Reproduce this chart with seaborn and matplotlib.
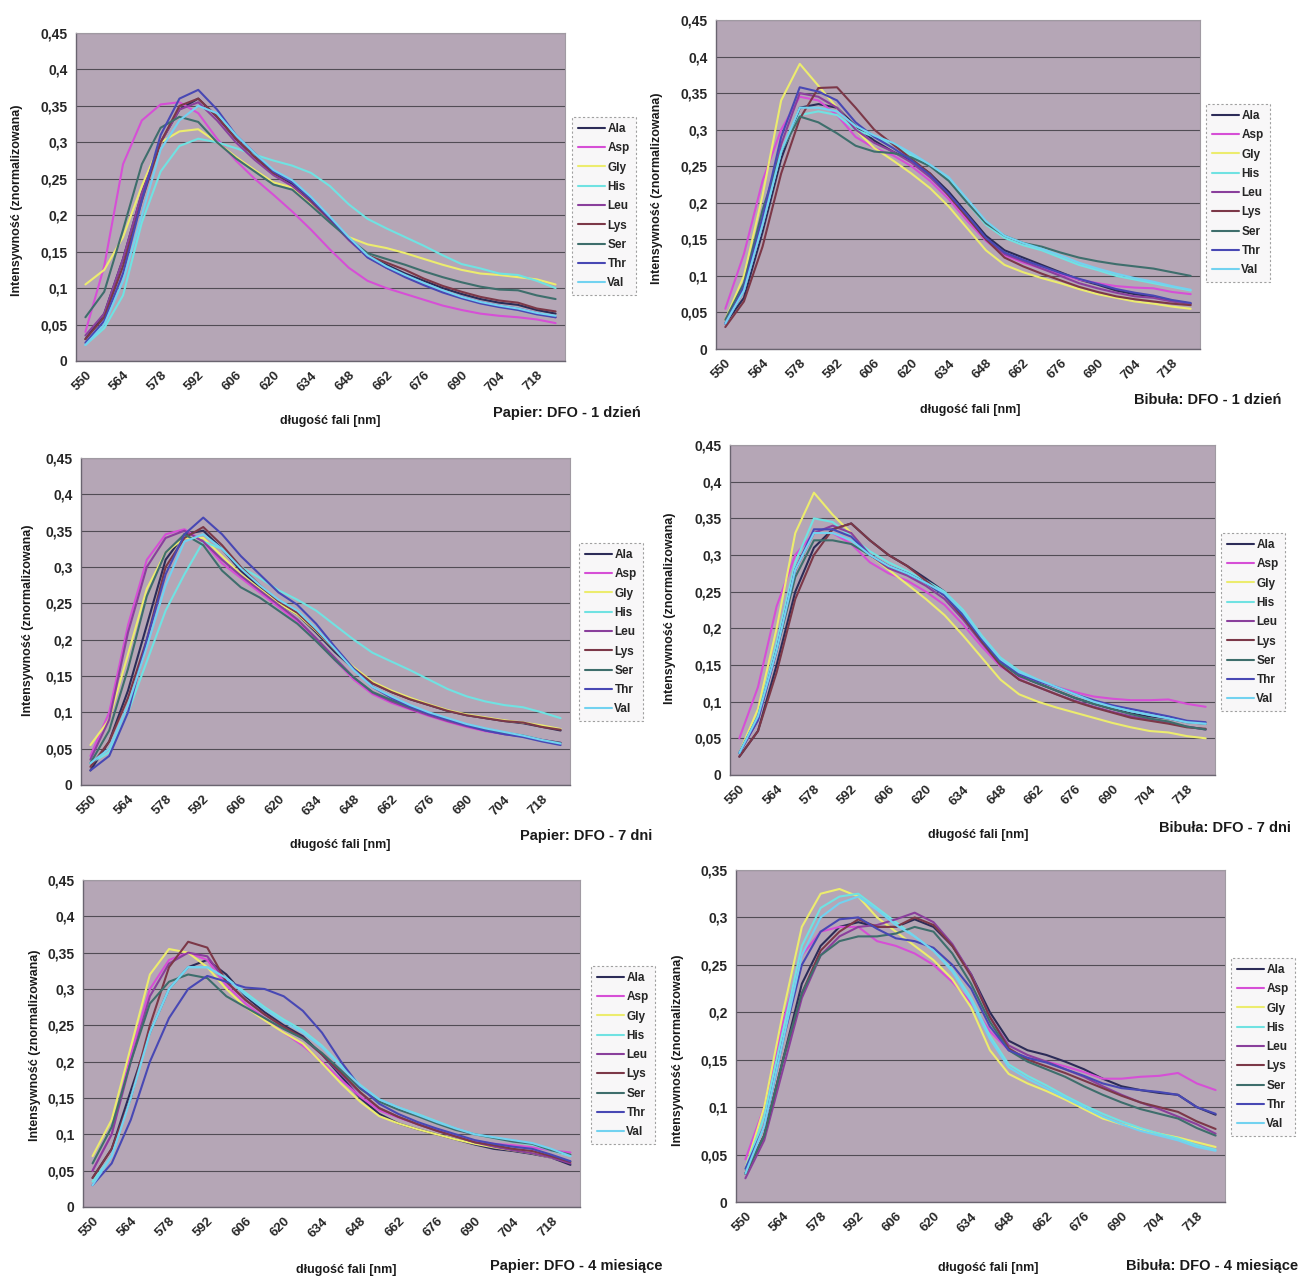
import numpy as np
import pandas as pd
import matplotlib
matplotlib.use("Agg")
import matplotlib.pyplot as plt
import seaborn as sns

# Excel category axis: one point every 7 nm, 550..725
WAVELENGTHS = list(range(550, 726, 7))
AMINO = ['Ala', 'Asp', 'Gly', 'His', 'Leu', 'Lys', 'Ser', 'Thr', 'Val']
COLORS = ['#2c2c58', '#d64fd6', '#ecec6e', '#70e2e2', '#8a3f9c',
          '#7c3848', '#3e6e6c', '#4848b4', '#72d2f0']

PAPIER_1D = {
    'Ala': [0.03, 0.065, 0.14, 0.23, 0.3, 0.345, 0.36, 0.335, 0.305, 0.28, 0.258, 0.243, 0.22, 0.195, 0.168, 0.145, 0.132, 0.12, 0.11, 0.1, 0.092, 0.085, 0.08, 0.077, 0.07, 0.065],
    'Asp': [0.04, 0.13, 0.27, 0.33, 0.352, 0.355, 0.34, 0.305, 0.275, 0.25, 0.228, 0.205, 0.18, 0.153, 0.128, 0.11, 0.1, 0.092, 0.084, 0.076, 0.07, 0.065, 0.062, 0.06, 0.057, 0.052],
    'Gly': [0.105, 0.125, 0.17, 0.24, 0.3, 0.315, 0.318, 0.3, 0.28, 0.262, 0.245, 0.238, 0.215, 0.193, 0.17, 0.16, 0.155, 0.148, 0.14, 0.132, 0.125, 0.12, 0.118, 0.115, 0.112, 0.105],
    'His': [0.022, 0.045, 0.09, 0.19, 0.26, 0.295, 0.305, 0.3, 0.292, 0.283, 0.275, 0.268, 0.258, 0.24, 0.215, 0.195, 0.182, 0.17, 0.158, 0.145, 0.133, 0.127, 0.12, 0.118, 0.11, 0.1],
    'Leu': [0.035, 0.065, 0.14, 0.23, 0.3, 0.345, 0.355, 0.33, 0.3, 0.276, 0.255, 0.24, 0.218, 0.193, 0.166, 0.143, 0.128, 0.116, 0.105, 0.096, 0.088, 0.081, 0.076, 0.072, 0.066, 0.06],
    'Lys': [0.03, 0.06, 0.13, 0.22, 0.3, 0.35, 0.36, 0.335, 0.305, 0.28, 0.258, 0.245, 0.22, 0.195, 0.168, 0.145, 0.135, 0.125, 0.113, 0.103, 0.095, 0.088, 0.083, 0.08, 0.072, 0.068],
    'Ser': [0.06, 0.095, 0.18, 0.27, 0.32, 0.335, 0.328, 0.3, 0.278, 0.26, 0.242, 0.235, 0.213, 0.19, 0.168, 0.148, 0.14, 0.132, 0.123, 0.115, 0.108, 0.102, 0.098, 0.097, 0.09, 0.085],
    'Thr': [0.025, 0.055, 0.12, 0.22, 0.31, 0.36, 0.372, 0.345, 0.31, 0.285, 0.26, 0.245, 0.222, 0.196, 0.168, 0.142, 0.128, 0.115, 0.104, 0.094, 0.086, 0.079, 0.074, 0.07, 0.064, 0.06],
    'Val': [0.022, 0.05, 0.11, 0.2, 0.29, 0.33, 0.35, 0.34, 0.31, 0.285, 0.262, 0.248, 0.225, 0.198, 0.17, 0.145, 0.13, 0.118, 0.107, 0.097, 0.088, 0.081, 0.076, 0.072, 0.066, 0.062],
}

BIBULA_1D = {
    'Ala': [0.035, 0.07, 0.16, 0.26, 0.33, 0.335, 0.33, 0.305, 0.285, 0.27, 0.258, 0.24, 0.215, 0.185, 0.155, 0.135, 0.125, 0.115, 0.105, 0.095, 0.088, 0.08, 0.075, 0.072, 0.066, 0.062],
    'Asp': [0.055, 0.13, 0.23, 0.3, 0.345, 0.34, 0.32, 0.29, 0.275, 0.265, 0.25, 0.23, 0.205, 0.175, 0.148, 0.128, 0.118, 0.11, 0.102, 0.095, 0.09, 0.086, 0.084, 0.083, 0.078, 0.075],
    'Gly': [0.04, 0.1, 0.21, 0.34, 0.39, 0.36, 0.33, 0.3, 0.275, 0.258, 0.24, 0.22, 0.195, 0.165, 0.135, 0.115, 0.105, 0.097, 0.09, 0.082, 0.075, 0.07, 0.065, 0.062, 0.058, 0.055],
    'His': [0.035, 0.08, 0.17, 0.27, 0.32, 0.325, 0.32, 0.3, 0.29, 0.28, 0.265, 0.25, 0.232, 0.2, 0.17, 0.152, 0.142, 0.135, 0.125, 0.115, 0.108, 0.1, 0.095, 0.09, 0.085, 0.08],
    'Leu': [0.035, 0.08, 0.17, 0.28, 0.35, 0.345, 0.33, 0.3, 0.282, 0.27, 0.255, 0.235, 0.21, 0.18, 0.15, 0.13, 0.12, 0.11, 0.1, 0.09, 0.083, 0.077, 0.072, 0.07, 0.065, 0.062],
    'Lys': [0.03, 0.065, 0.14, 0.24, 0.315, 0.357, 0.358, 0.33, 0.3, 0.28, 0.26, 0.24, 0.21, 0.18, 0.15, 0.125, 0.113, 0.103, 0.094, 0.085, 0.078, 0.072, 0.068, 0.065, 0.062, 0.06],
    'Ser': [0.04, 0.09, 0.19, 0.27, 0.318, 0.31, 0.295, 0.278, 0.27, 0.268, 0.262, 0.25, 0.23, 0.2, 0.172, 0.155, 0.145, 0.14, 0.132, 0.125, 0.12, 0.116, 0.113, 0.11, 0.105, 0.1],
    'Thr': [0.035, 0.085, 0.18, 0.29, 0.358, 0.352, 0.34, 0.31, 0.29, 0.275, 0.258, 0.238, 0.212, 0.183, 0.152, 0.132, 0.122, 0.113, 0.104, 0.096, 0.089, 0.082, 0.077, 0.073, 0.067, 0.063],
    'Val': [0.035, 0.08, 0.17, 0.27, 0.33, 0.33, 0.325, 0.305, 0.292, 0.282, 0.268, 0.252, 0.235, 0.205, 0.175, 0.155, 0.145, 0.137, 0.128, 0.118, 0.11, 0.103, 0.097, 0.092, 0.086, 0.081],
}

PAPIER_7D = {
    'Ala': [0.02, 0.06, 0.13, 0.22, 0.31, 0.345, 0.35, 0.325, 0.295, 0.272, 0.25, 0.235, 0.21, 0.183, 0.16, 0.14, 0.128, 0.118, 0.11, 0.102, 0.096, 0.092, 0.088, 0.085, 0.08, 0.075],
    'Asp': [0.04, 0.1, 0.22, 0.31, 0.345, 0.352, 0.335, 0.305, 0.285, 0.265, 0.245, 0.225, 0.2, 0.172, 0.145, 0.125, 0.113, 0.104, 0.095, 0.087, 0.08, 0.074, 0.07, 0.067, 0.062, 0.058],
    'Gly': [0.055, 0.09, 0.18, 0.27, 0.32, 0.34, 0.34, 0.315, 0.29, 0.27, 0.25, 0.235, 0.212, 0.186, 0.162, 0.142, 0.13, 0.12, 0.111, 0.103, 0.097, 0.093, 0.089, 0.086, 0.082, 0.077],
    'His': [0.03, 0.045, 0.1, 0.17, 0.24, 0.29, 0.335, 0.325, 0.3, 0.285, 0.268, 0.255, 0.24, 0.22, 0.2, 0.182, 0.17, 0.158, 0.145, 0.132, 0.122, 0.115, 0.11, 0.107, 0.1, 0.092],
    'Leu': [0.035, 0.09, 0.21, 0.3, 0.34, 0.35, 0.335, 0.31, 0.288, 0.268, 0.248, 0.228, 0.202, 0.175, 0.148, 0.127, 0.115, 0.105, 0.096, 0.088, 0.081, 0.075, 0.07, 0.067, 0.062, 0.058],
    'Lys': [0.025, 0.06, 0.12, 0.2, 0.3, 0.34, 0.355, 0.33, 0.3, 0.275, 0.253, 0.237, 0.213, 0.186, 0.16, 0.14, 0.128, 0.118, 0.11, 0.102, 0.096, 0.092, 0.088, 0.086, 0.08, 0.076],
    'Ser': [0.03, 0.075, 0.16, 0.26, 0.32, 0.345, 0.33, 0.295, 0.272, 0.258, 0.24, 0.222, 0.198, 0.172, 0.148, 0.128, 0.117, 0.107, 0.098, 0.09, 0.083, 0.077, 0.072, 0.068, 0.062, 0.058],
    'Thr': [0.02, 0.04, 0.1, 0.2, 0.29, 0.345, 0.368, 0.345, 0.315, 0.29, 0.265, 0.248, 0.222, 0.19, 0.16, 0.135, 0.12, 0.108, 0.098, 0.09, 0.082, 0.075, 0.07, 0.066, 0.06, 0.055],
    'Val': [0.03, 0.05, 0.11, 0.19, 0.275, 0.335, 0.345, 0.325, 0.298, 0.275, 0.255, 0.24, 0.215, 0.187, 0.158, 0.135, 0.122, 0.11, 0.1, 0.092, 0.084, 0.078, 0.073, 0.068, 0.062, 0.057],
}

BIBULA_7D = {
    'Ala': [0.025, 0.06, 0.15, 0.25, 0.31, 0.335, 0.343, 0.32, 0.3, 0.285, 0.268, 0.25, 0.22, 0.185, 0.155, 0.135, 0.125, 0.115, 0.105, 0.097, 0.09, 0.084, 0.08, 0.077, 0.072, 0.07],
    'Asp': [0.05, 0.12, 0.23, 0.3, 0.33, 0.33, 0.315, 0.29, 0.275, 0.265, 0.25, 0.232, 0.205, 0.175, 0.148, 0.132, 0.128, 0.12, 0.113, 0.107, 0.104, 0.102, 0.102, 0.103, 0.097, 0.093],
    'Gly': [0.03, 0.09, 0.2, 0.33, 0.385, 0.355, 0.33, 0.3, 0.28, 0.26, 0.24, 0.218, 0.19, 0.16, 0.13, 0.11, 0.1, 0.092, 0.085, 0.078, 0.071, 0.065, 0.06, 0.058, 0.053, 0.05],
    'His': [0.03, 0.08, 0.18, 0.29, 0.35, 0.345, 0.325, 0.305, 0.29, 0.278, 0.265, 0.25, 0.225, 0.19, 0.16, 0.142, 0.13, 0.12, 0.11, 0.1, 0.093, 0.087, 0.082, 0.078, 0.072, 0.07],
    'Leu': [0.03, 0.075, 0.17, 0.28, 0.33, 0.34, 0.33, 0.3, 0.282, 0.272, 0.258, 0.24, 0.212, 0.18, 0.15, 0.13, 0.12, 0.11, 0.101, 0.093, 0.086, 0.08, 0.075, 0.071, 0.066, 0.062],
    'Lys': [0.025, 0.06, 0.14, 0.24, 0.3, 0.335, 0.343, 0.32, 0.3, 0.285, 0.265, 0.245, 0.215, 0.182, 0.15, 0.13, 0.12, 0.11, 0.1, 0.092, 0.085, 0.078, 0.074, 0.07, 0.065, 0.063],
    'Ser': [0.03, 0.08, 0.17, 0.27, 0.32, 0.32, 0.315, 0.3, 0.285, 0.275, 0.262, 0.245, 0.218, 0.185, 0.153, 0.135, 0.125, 0.115, 0.105, 0.097, 0.09, 0.083, 0.077, 0.073, 0.066, 0.062],
    'Thr': [0.03, 0.075, 0.17, 0.28, 0.335, 0.335, 0.325, 0.3, 0.285, 0.275, 0.262, 0.245, 0.218, 0.185, 0.155, 0.138, 0.128, 0.12, 0.11, 0.102, 0.095, 0.09, 0.085, 0.08, 0.074, 0.072],
    'Val': [0.03, 0.08, 0.17, 0.28, 0.33, 0.33, 0.32, 0.3, 0.285, 0.275, 0.262, 0.248, 0.222, 0.188, 0.158, 0.14, 0.13, 0.12, 0.11, 0.1, 0.093, 0.087, 0.082, 0.077, 0.072, 0.07],
}

PAPIER_4M = {
    'Ala': [0.04, 0.08, 0.16, 0.24, 0.3, 0.33, 0.34, 0.32, 0.29, 0.268, 0.25, 0.235, 0.21, 0.18, 0.15, 0.128, 0.115, 0.107, 0.1, 0.093, 0.086, 0.08, 0.077, 0.073, 0.068, 0.058],
    'Asp': [0.05, 0.1, 0.21, 0.3, 0.34, 0.35, 0.34, 0.305, 0.28, 0.26, 0.24, 0.222, 0.2, 0.175, 0.152, 0.133, 0.123, 0.114, 0.106, 0.098, 0.091, 0.087, 0.085, 0.082, 0.078, 0.075],
    'Gly': [0.07, 0.12, 0.22, 0.32, 0.355, 0.35, 0.33, 0.3, 0.275, 0.257, 0.24, 0.225, 0.198, 0.17, 0.145, 0.125, 0.115, 0.107, 0.1, 0.093, 0.087, 0.082, 0.078, 0.074, 0.068, 0.062],
    'His': [0.035, 0.07, 0.15, 0.24, 0.3, 0.33, 0.33, 0.315, 0.295, 0.275, 0.258, 0.243, 0.222, 0.195, 0.168, 0.148, 0.137, 0.128, 0.118, 0.108, 0.1, 0.095, 0.09, 0.086, 0.078, 0.07],
    'Leu': [0.05, 0.1, 0.2, 0.29, 0.335, 0.35, 0.345, 0.31, 0.285, 0.265, 0.247, 0.232, 0.21, 0.183, 0.157, 0.136, 0.124, 0.114, 0.105, 0.097, 0.089, 0.083, 0.078, 0.074, 0.068, 0.06],
    'Lys': [0.04, 0.08, 0.15, 0.25, 0.33, 0.365, 0.357, 0.31, 0.285, 0.265, 0.248, 0.233, 0.21, 0.185, 0.158, 0.136, 0.124, 0.114, 0.105, 0.097, 0.089, 0.085, 0.08, 0.077, 0.07, 0.062],
    'Ser': [0.06, 0.11, 0.2, 0.28, 0.31, 0.32, 0.315, 0.29, 0.275, 0.26, 0.245, 0.232, 0.212, 0.188, 0.163, 0.145, 0.134, 0.125, 0.115, 0.106, 0.1, 0.095, 0.09, 0.087, 0.078, 0.072],
    'Thr': [0.03, 0.06, 0.12, 0.2, 0.26, 0.3, 0.318, 0.31, 0.302, 0.3, 0.29, 0.27, 0.24, 0.2, 0.165, 0.142, 0.128, 0.117, 0.108, 0.1, 0.092, 0.087, 0.083, 0.08, 0.072, 0.063],
    'Val': [0.03, 0.07, 0.15, 0.24, 0.3, 0.33, 0.33, 0.315, 0.292, 0.272, 0.255, 0.24, 0.22, 0.193, 0.167, 0.148, 0.137, 0.127, 0.117, 0.108, 0.1, 0.096, 0.092, 0.088, 0.08, 0.07],
}

BIBULA_4M = {
    'Ala': [0.03, 0.07, 0.15, 0.23, 0.27, 0.29, 0.295, 0.29, 0.29, 0.298, 0.29, 0.27, 0.24, 0.2, 0.17, 0.16, 0.155, 0.148, 0.14, 0.13, 0.122, 0.118, 0.115, 0.113, 0.1, 0.092],
    'Asp': [0.045, 0.1, 0.19, 0.26, 0.285, 0.29, 0.29, 0.275, 0.27, 0.262, 0.25, 0.232, 0.21, 0.18, 0.16, 0.152, 0.148, 0.143, 0.137, 0.13, 0.13, 0.132, 0.133, 0.136, 0.125, 0.118],
    'Gly': [0.035, 0.1, 0.2, 0.29, 0.325, 0.33, 0.322, 0.3, 0.285, 0.27, 0.255, 0.235, 0.205, 0.16, 0.135, 0.125, 0.117, 0.108, 0.098, 0.088, 0.082, 0.077, 0.072, 0.068, 0.063, 0.058],
    'His': [0.035, 0.09, 0.18, 0.27, 0.31, 0.322, 0.325, 0.31, 0.295, 0.28, 0.265, 0.245, 0.215, 0.175, 0.145, 0.133, 0.123, 0.112, 0.102, 0.093, 0.085, 0.078, 0.072, 0.067, 0.06, 0.055],
    'Leu': [0.025, 0.065, 0.14, 0.215, 0.26, 0.28, 0.29, 0.292, 0.298, 0.305, 0.295, 0.272, 0.24, 0.195, 0.165, 0.155, 0.148, 0.14, 0.132, 0.122, 0.113, 0.105, 0.098, 0.09, 0.082, 0.072],
    'Lys': [0.03, 0.07, 0.15, 0.22, 0.265, 0.285, 0.298, 0.29, 0.29, 0.3, 0.292, 0.27, 0.238, 0.195, 0.162, 0.15, 0.143, 0.136, 0.128, 0.12, 0.112, 0.105, 0.1, 0.095, 0.085, 0.077],
    'Ser': [0.03, 0.07, 0.15, 0.22, 0.26, 0.275, 0.28, 0.28, 0.283, 0.29, 0.285, 0.262, 0.23, 0.19, 0.16, 0.148, 0.14, 0.132, 0.122, 0.113, 0.105, 0.098, 0.093, 0.088, 0.078, 0.07],
    'Thr': [0.035, 0.08, 0.17, 0.25, 0.285, 0.298, 0.3, 0.288, 0.278, 0.275, 0.268, 0.25, 0.225, 0.185, 0.16, 0.152, 0.147, 0.14, 0.133, 0.125, 0.12, 0.118, 0.116, 0.113, 0.1, 0.093],
    'Val': [0.03, 0.08, 0.17, 0.26, 0.3, 0.315, 0.322, 0.308, 0.292, 0.28, 0.265, 0.243, 0.212, 0.172, 0.142, 0.13, 0.12, 0.11, 0.1, 0.09, 0.082, 0.075, 0.07, 0.065, 0.058, 0.054],
}

TITLES = ['Papier: DFO - 1 dzień', 'Bibuła: DFO - 1 dzień',
          'Papier: DFO - 7 dni', 'Bibuła: DFO - 7 dni',
          'Papier: DFO - 4 miesiące', 'Bibuła: DFO - 4 miesiące']
Y_MAX = [0.45, 0.45, 0.45, 0.45, 0.45, 0.35]
X_LABEL = 'długość fali [nm]'
Y_LABEL = 'Intensywność (znormalizowana)'

W, H = 1299, 1278
BG = '#b5a6b6'
FONT = ['Liberation Sans', 'DejaVu Sans']

# layout in pixels: plot box (l, r, top, bottom), legend (l, top), title (right, y),
# x label centre (x, y), y label centre (x, y)
LAYOUT = [
    dict(box=(76, 565, 33, 361), leg=(572, 117), title=(641, 413), xl=(330, 421), yl=(17, 200)),
    dict(box=(716, 1200, 20, 349), leg=(1206, 104), title=(1281, 400), xl=(970, 410), yl=(657, 188)),
    dict(box=(81, 570, 458, 785), leg=(579, 543), title=(652, 836), xl=(340, 845), yl=(28, 620)),
    dict(box=(730, 1215, 445, 775), leg=(1221, 533), title=(1291, 828), xl=(978, 835), yl=(670, 608)),
    dict(box=(83, 580, 880, 1207), leg=(591, 966), title=(662, 1266), xl=(346, 1270), yl=(35, 1045)),
    dict(box=(736, 1225, 870, 1202), leg=(1231, 958), title=(1298, 1266), xl=(988, 1268), yl=(678, 1050)),
]


def fx(px):
    return px / W


def fy(py):
    return 1 - py / H


def y_fmt(v):
    if v == 0:
        return '0'
    return f'{v:.2f}'.rstrip('0').replace('.', ',')


def draw_panel(fig, data, title, ymax, lay):
    l, r, t, b = lay['box']
    ax = fig.add_axes([fx(l), fy(b), fx(r - l), (b - t) / H])
    df = pd.DataFrame(data, index=WAVELENGTHS)
    df.index.name = 'nm'
    long = df.reset_index().melt(id_vars='nm', var_name='aa', value_name='val')
    sns.lineplot(data=long, x='nm', y='val', hue='aa', hue_order=AMINO,
                 palette=COLORS, linewidth=1.5, ax=ax)
    ax.set_facecolor(BG)
    ax.set_xlim(546.5, 728.5)
    ax.set_ylim(0, ymax)

    xt = list(range(550, 719, 14))
    ax.set_xticks(xt)
    ax.set_xticklabels([str(v) for v in xt], rotation=45, ha='right', va='top',
                       rotation_mode='anchor', fontsize=9.5, fontweight='bold', family=FONT)
    ax.set_xticks(np.arange(546.5, 729, 7), minor=True)
    ax.tick_params(axis='x', which='major', length=0, pad=6)
    ax.tick_params(axis='x', which='minor', length=3, direction='in', color='#555555')

    yt = np.round(np.arange(0, ymax + 1e-9, 0.05), 2)
    ax.set_yticks(yt)
    ax.set_yticklabels([y_fmt(v) for v in yt], fontsize=10, fontweight='bold', family=FONT)
    ax.tick_params(axis='y', length=3, direction='out', color='#555555', pad=3)

    ax.grid(axis='y', color='#514c55', linewidth=0.8)
    ax.grid(axis='x', visible=False)
    ax.set_axisbelow(True)
    for side in ['left', 'bottom']:
        ax.spines[side].set_color('#6a6470')
        ax.spines[side].set_linewidth(1.0)
    for side in ['top', 'right']:
        ax.spines[side].set_color('#a09aa2')
        ax.spines[side].set_linewidth(0.8)
    ax.set_xlabel('')
    ax.set_ylabel('')

    handles, labels = ax.get_legend_handles_labels()
    lx, ly = lay['leg']
    leg = ax.legend(handles, labels, loc='upper left', bbox_to_anchor=(fx(lx), fy(ly)),
                    bbox_transform=fig.transFigure, frameon=True, fancybox=False,
                    handlelength=2.3, handletextpad=0.2, labelspacing=0.62,
                    borderpad=0.5, borderaxespad=0,
                    prop={'family': FONT, 'weight': 'bold', 'size': 8.5})
    leg.get_frame().set_edgecolor('#8a8a8a')
    leg.get_frame().set_linestyle((0, (2, 2)))
    leg.get_frame().set_facecolor('#f7f5f7')
    leg.get_frame().set_linewidth(0.8)
    for line in leg.get_lines():
        line.set_linewidth(1.5)

    tx, ty = lay['title']
    fig.text(fx(tx), fy(ty), title, ha='right', va='center', fontsize=10.5,
             fontweight='bold', family=FONT, color='#1a1a1a')
    xx, xy = lay['xl']
    fig.text(fx(xx), fy(xy), X_LABEL, ha='center', va='center', fontsize=9,
             fontweight='bold', family=FONT, color='#1a1a1a')
    yx, yy = lay['yl']
    fig.text(fx(yx), fy(yy), Y_LABEL, ha='center', va='center', rotation=90,
             fontsize=9, fontweight='bold', family=FONT, color='#1a1a1a')


sns.set_theme(style='white')
plt.rcParams['font.family'] = FONT

fig = plt.figure(figsize=(W / 100, H / 100), dpi=100)
fig.patch.set_facecolor('white')

panels = [PAPIER_1D, BIBULA_1D, PAPIER_7D, BIBULA_7D, PAPIER_4M, BIBULA_4M]
for data, title, ymax, lay in zip(panels, TITLES, Y_MAX, LAYOUT):
    draw_panel(fig, data, title, ymax, lay)

fig.savefig('out.png', dpi=100, facecolor='white')
plt.close(fig)
